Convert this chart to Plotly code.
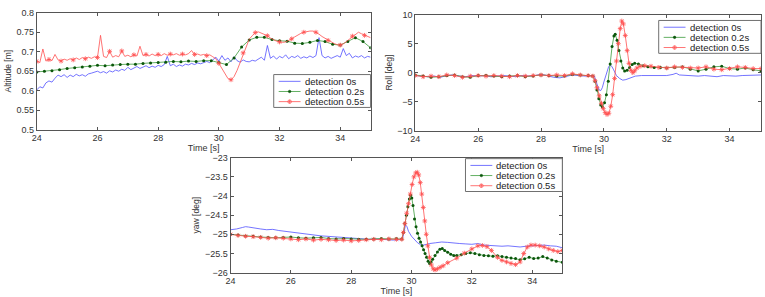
import plotly.graph_objects as go

# ---------------- data ----------------
# Altitude [m]
alt_t_blue = [round(24 + 0.1 * i, 1) for i in range(111)]
alt_blue = [0.602, 0.610, 0.607, 0.620, 0.625, 0.622, 0.632, 0.640, 0.636, 0.641,
            0.634, 0.640, 0.636, 0.642, 0.638, 0.641, 0.637, 0.643, 0.645, 0.648,
            0.650, 0.646, 0.649, 0.645, 0.651, 0.648, 0.653, 0.650, 0.655, 0.652,
            0.660, 0.654, 0.658, 0.662, 0.657, 0.660, 0.664, 0.659, 0.663, 0.660,
            0.665, 0.662, 0.667, 0.688, 0.664, 0.668, 0.662, 0.666, 0.663, 0.668,
            0.666, 0.670, 0.667, 0.671, 0.669, 0.672, 0.675, 0.672, 0.678, 0.686,
            0.676, 0.690, 0.678, 0.684, 0.674, 0.687, 0.677, 0.673, 0.679, 0.675,
            0.674, 0.678, 0.676, 0.680, 0.686, 0.678, 0.716, 0.683, 0.689, 0.681,
            0.688, 0.684, 0.692, 0.682, 0.688, 0.685, 0.690, 0.683, 0.687, 0.684,
            0.689, 0.685, 0.690, 0.736, 0.690, 0.684, 0.688, 0.683, 0.687, 0.690,
            0.686, 0.708, 0.690, 0.696, 0.684, 0.689, 0.686, 0.690, 0.684, 0.688,
            0.686]
alt_t_green = [24 + 0.25 * i for i in range(45)]
alt_green = [0.648, 0.650, 0.651, 0.654, 0.657, 0.659, 0.661, 0.663, 0.665, 0.664,
             0.666, 0.667, 0.668, 0.668, 0.670, 0.671, 0.672, 0.673, 0.675, 0.674,
             0.676, 0.675, 0.677, 0.677, 0.672, 0.667, 0.684, 0.712, 0.730, 0.737,
             0.737, 0.731, 0.728, 0.727, 0.722, 0.721, 0.724, 0.729, 0.726, 0.719,
             0.717, 0.726, 0.736, 0.726, 0.710]
alt_t_red = [round(24 + 0.1 * i, 1) for i in range(111)]
alt_red = [0.675, 0.672, 0.707, 0.676, 0.680, 0.677, 0.693, 0.679, 0.676, 0.681,
           0.678, 0.682, 0.679, 0.684, 0.680, 0.685, 0.682, 0.686, 0.683, 0.687,
           0.685, 0.742, 0.688, 0.685, 0.701, 0.686, 0.690, 0.687, 0.702, 0.688,
           0.691, 0.687, 0.692, 0.689, 0.714, 0.690, 0.693, 0.689, 0.694, 0.690,
           0.693, 0.690, 0.695, 0.691, 0.694, 0.692, 0.695, 0.691, 0.694, 0.692,
           0.695, 0.703, 0.693, 0.694, 0.691, 0.693, 0.690, 0.692, 0.687, 0.682,
           0.670, 0.657, 0.642, 0.631, 0.628, 0.636, 0.652, 0.672, 0.697, 0.717,
           0.732, 0.741, 0.749, 0.751, 0.748, 0.746, 0.741, 0.735, 0.730, 0.727,
           0.725, 0.724, 0.725, 0.728, 0.733, 0.738, 0.743, 0.747, 0.750, 0.752,
           0.753, 0.753, 0.750, 0.745, 0.739, 0.734, 0.729, 0.725, 0.721, 0.718,
           0.717, 0.720, 0.726, 0.733, 0.740, 0.746, 0.750, 0.746, 0.742, 0.738,
           0.736]

# Roll [deg]
roll_t_blue = [24.0, 24.2, 24.4, 24.6, 24.8, 25.0, 25.2, 25.4, 25.6, 25.8, 26.0, 26.2, 26.4, 26.6,
               26.8, 27.0, 27.2, 27.4, 27.6, 27.8, 28.0, 28.2, 28.4, 28.6, 28.8, 29.0, 29.2, 29.4,
               29.6, 29.7, 29.75, 29.8, 29.85, 29.9, 29.95, 30.0, 30.05, 30.1, 30.15, 30.2, 30.25,
               30.3, 30.35, 30.4, 30.5, 30.6, 30.7, 30.8, 30.9, 31.0, 31.2, 31.4, 31.6, 31.8, 32.0,
               32.2, 32.3, 32.4, 32.6, 32.8, 33.0, 33.2, 33.4, 33.6, 33.8, 34.0, 34.2, 34.4, 34.6,
               34.8, 35.0]
roll_blue = [-0.5, -0.6, -0.7, -0.6, -0.8, -0.5, -0.4, -0.6, -0.7, -0.5, -0.6, -0.5, -0.7, -0.6,
             -0.5, -0.6, -0.7, -0.5, -0.6, -0.5, -0.3, -0.5, -0.8, -0.9, -0.6, -0.4, -0.5, -0.6,
             -0.5, -0.6, -1.5, -2.4, -3.0, -3.1, -2.6, -1.6, -0.6, 0.3, 1.0, 1.3, 1.1,
             0.6, 0.0, -0.5, -1.0, -1.3, -1.2, -1.0, -0.8, -0.6, -0.5, -0.5, -0.6, -0.5, -0.5,
             -0.3, -0.1, -0.4, -0.5, -0.6, -0.6, -0.5, -0.6, -0.7, -0.5, -0.6, -0.6, -0.5, -0.5,
             -0.4, -0.4]
roll_t_green = [24.0, 24.25, 24.5, 24.75, 25.0, 25.25, 25.5, 25.75, 26.0, 26.25, 26.5, 26.75,
                27.0, 27.25, 27.5, 27.75, 28.0, 28.25, 28.5, 28.75, 29.0, 29.25, 29.5, 29.65,
                29.72, 29.78, 29.84, 29.9, 29.95, 30.02, 30.08, 30.14, 30.2, 30.26, 30.32, 30.36,
                30.42, 30.48, 30.54, 30.6, 30.66, 30.74, 30.82, 30.9, 30.98, 31.1, 31.25, 31.4,
                31.6, 31.8, 32.0, 32.25, 32.5, 32.75, 33.0, 33.25, 33.5, 33.75, 34.0, 34.25,
                34.5, 34.75, 35.0]
roll_green = [-0.4, -0.6, -0.8, -0.7, -0.5, -0.4, -0.7, -0.8, -0.5, -0.5, -0.6, -0.7,
              -0.6, -0.5, -0.7, -0.6, -0.4, -0.5, -0.6, -0.6, -0.3, -0.4, -0.5, -0.6,
              -1.5, -3.0, -4.5, -5.6, -5.9, -5.2, -3.8, -1.5, 1.5, 4.5, 6.3, 6.6,
              5.6, 3.8, 2.0, 0.8, 0.3, 0.4, 0.9, 1.4, 1.6, 1.5, 1.2, 1.0,
              0.9, 0.9, 0.8, 0.9, 1.0, 0.6, 0.3, 0.6, 1.0, 1.1, 0.7, 0.6,
              0.8, 0.5, 0.3]
roll_t_red = [24.0, 24.25, 24.5, 24.75, 25.0, 25.25, 25.5, 25.75, 26.0, 26.25, 26.5, 26.75,
              27.0, 27.25, 27.5, 27.75, 28.0, 28.25, 28.5, 28.75, 29.0, 29.25, 29.5, 29.65,
              29.72, 29.78, 29.85, 29.92, 29.98, 30.04, 30.1, 30.16, 30.22, 30.28, 30.34, 30.4,
              30.46, 30.52, 30.57, 30.62, 30.68, 30.74, 30.8, 30.86, 30.92, 30.98, 31.05, 31.15,
              31.3, 31.5, 31.75, 32.0, 32.25, 32.5, 32.75, 33.0, 33.25, 33.5, 33.75, 34.0,
              34.25, 34.5, 34.75, 35.0]
roll_red = [-0.5, -0.7, -0.6, -0.7, -0.4, -0.5, -0.8, -0.6, -0.5, -0.6, -0.5, -0.6,
            -0.7, -0.5, -0.6, -0.5, -0.4, -0.5, -0.4, -0.5, -0.2, -0.4, -0.5, -0.6,
            -1.4, -2.6, -4.0, -5.3, -6.2, -6.9, -7.2, -7.0, -5.8, -3.8, -1.0, 2.0,
            5.0, 7.6, 8.9, 8.4, 6.4, 3.8, 1.6, 0.4, 0.0, 0.3, 0.8, 1.1,
            1.2, 1.1, 0.9, 0.8, 1.0, 0.9, 0.8, 0.8, 1.0, 0.6, 0.5, 0.7,
            1.0, 0.9, 0.7, 0.7]

# Yaw [deg]
yaw_t_blue = [24.0, 24.2, 24.4, 24.5, 24.6, 24.8, 25.0, 25.2, 25.4, 25.6, 25.8, 26.0, 26.2, 26.4,
              26.6, 26.8, 27.0, 27.2, 27.4, 27.6, 27.8, 28.0, 28.2, 28.4, 28.6, 28.8, 29.0, 29.2,
              29.4, 29.6, 29.7, 29.75, 29.8, 29.85, 29.9, 30.0, 30.1, 30.2, 30.3, 30.4, 30.5,
              30.6, 30.8, 31.0, 31.2, 31.4, 31.6, 31.8, 32.0, 32.2, 32.4, 32.6, 32.8, 33.0,
              33.2, 33.4, 33.6, 33.8, 34.0, 34.2, 34.4, 34.6, 34.8, 35.0]
yaw_blue = [-24.88, -24.86, -24.82, -24.80, -24.81, -24.84, -24.86, -24.88, -24.87, -24.90,
            -24.92, -24.94, -24.96, -24.99, -25.01, -25.03, -25.04, -25.05, -25.06, -25.08,
            -25.09, -25.10, -25.11, -25.12, -25.13, -25.12, -25.13, -25.14, -25.15, -25.14,
            -25.12, -24.95, -24.76, -24.80, -24.92, -25.05, -25.15, -25.22, -25.27, -25.28,
            -25.26, -25.24, -25.22, -25.20, -25.21, -25.23, -25.24, -25.25, -25.26, -25.24,
            -25.28, -25.29, -25.30, -25.31, -25.30, -25.32, -25.33, -25.31, -25.30, -25.29,
            -25.28, -25.30, -25.31, -25.35]
yaw_t_green = [24.0, 24.25, 24.5, 24.75, 25.0, 25.25, 25.5, 25.75, 26.0, 26.25, 26.5, 26.75,
               27.0, 27.25, 27.5, 27.75, 28.0, 28.25, 28.5, 28.75, 29.0, 29.25, 29.5, 29.68,
               29.73, 29.78, 29.83, 29.88, 29.93, 29.97, 30.01, 30.05, 30.1, 30.15, 30.2, 30.25,
               30.3, 30.35, 30.4, 30.45, 30.5, 30.55, 30.6, 30.65, 30.7, 30.78, 30.86, 30.94,
               31.02, 31.1, 31.2, 31.3, 31.4, 31.5, 31.65, 31.8, 31.95, 32.1, 32.25, 32.4,
               32.55, 32.7, 32.85, 33.0, 33.15, 33.3, 33.45, 33.6, 33.75, 33.9, 34.05, 34.2,
               34.35, 34.5, 34.65, 34.8, 35.0]
yaw_green = [-25.00, -25.02, -25.04, -25.05, -25.07, -25.08, -25.09, -25.08, -25.07, -25.09,
             -25.10, -25.09, -25.08, -25.11, -25.12, -25.11, -25.12, -25.13, -25.13, -25.12,
             -25.11, -25.12, -25.11, -25.12, -24.95, -24.72, -24.50, -24.28, -24.08, -23.98,
             -24.05, -24.25, -24.60, -24.80, -24.97, -25.10, -25.20, -25.30, -25.40, -25.50,
             -25.60, -25.70, -25.76, -25.72, -25.65, -25.55, -25.46, -25.39, -25.37, -25.42,
             -25.47, -25.52, -25.55, -25.55, -25.53, -25.50, -25.48, -25.50, -25.53, -25.55,
             -25.56, -25.57, -25.56, -25.58, -25.60, -25.62, -25.63, -25.66, -25.64, -25.60,
             -25.63, -25.62, -25.58, -25.62, -25.67, -25.70, -25.73]
yaw_t_red = [24.0, 24.25, 24.5, 24.75, 25.0, 25.25, 25.5, 25.75, 26.0, 26.25, 26.5, 26.75,
             27.0, 27.25, 27.5, 27.75, 28.0, 28.25, 28.5, 28.75, 29.0, 29.25, 29.5, 29.68,
             29.73, 29.78, 29.84, 29.9, 29.96, 30.02, 30.08, 30.14, 30.19, 30.24, 30.29, 30.34,
             30.39, 30.44, 30.49, 30.54, 30.6, 30.66, 30.72, 30.78, 30.86, 30.95, 31.05, 31.2,
             31.5, 31.75, 32.0, 32.2, 32.35, 32.5, 32.65, 32.85, 33.0, 33.15, 33.3, 33.45,
             33.6, 33.72, 33.84, 33.96, 34.1, 34.25, 34.4, 34.55, 34.7, 34.85, 35.0]
yaw_red = [-25.00, -25.03, -25.05, -25.06, -25.08, -25.10, -25.09, -25.10, -25.12, -25.14,
           -25.12, -25.15, -25.13, -25.14, -25.16, -25.15, -25.17, -25.16, -25.14, -25.13,
           -25.14, -25.12, -25.13, -25.13, -24.95, -24.72, -24.45, -24.20, -23.95, -23.70,
           -23.50, -23.40, -23.38, -23.45, -23.65, -23.95, -24.30, -24.65, -25.00, -25.30,
           -25.60, -25.80, -25.90, -25.93, -25.90, -25.86, -25.82, -25.74, -25.62, -25.49,
           -25.38, -25.30, -25.29, -25.32, -25.42, -25.60, -25.68, -25.72, -25.76, -25.79,
           -25.72, -25.50, -25.33, -25.28, -25.28, -25.30, -25.33, -25.38, -25.42, -25.45,
           -25.42]

series_names = ["detection 0s", "detection 0.2s", "detection 0.5s"]
x_ticks = [24, 26, 28, 30, 32, 34]
alt_ticks = [0.5, 0.55, 0.6, 0.65, 0.7, 0.75, 0.8]
roll_ticks = [-10, -5, 0, 5, 10]
yaw_ticks = [-26, -25.5, -25, -24.5, -24, -23.5, -23]

# ---------------- style ----------------
W, H = 765, 297
FONT = "Liberation Sans, Arial, sans-serif"
TXT = "#333333"
BLUE = "#5050ff"
GREEN = "#3c9c3c"
GREEN_M = "#0b560b"
RED = "#ff5050"


def px_x(x):
    return x / W


def px_y(y):
    return 1 - y / H


def dom_x(a, b):
    return [a / W, b / W]


def dom_y(top, bottom):
    return [1 - bottom / H, 1 - top / H]


fig = go.Figure()


def add_series(xs, ys, idx, xa, ya, maxmk=None):
    if idx == 0:
        fig.add_trace(go.Scatter(x=xs, y=ys, mode="lines", name=series_names[0],
                                 line=dict(color=BLUE, width=0.8), xaxis=xa, yaxis=ya))
    elif idx == 1:
        mk = dict(symbol="circle", size=3, color=GREEN_M)
        if maxmk:
            mk["maxdisplayed"] = maxmk
        fig.add_trace(go.Scatter(x=xs, y=ys, mode="lines+markers", name=series_names[1],
                                 line=dict(color=GREEN, width=0.8), marker=mk,
                                 xaxis=xa, yaxis=ya))
    else:
        mk = dict(symbol="asterisk-open", size=4, color=RED, line=dict(width=0.8, color=RED))
        if maxmk:
            mk["maxdisplayed"] = maxmk
        fig.add_trace(go.Scatter(x=xs, y=ys, mode="lines+markers", name=series_names[2],
                                 line=dict(color=RED, width=0.8), marker=mk,
                                 xaxis=xa, yaxis=ya))


add_series(alt_t_blue, alt_blue, 0, "x", "y")
add_series(alt_t_green, alt_green, 1, "x", "y")
add_series(alt_t_red, alt_red, 2, "x", "y", maxmk=30)

add_series(roll_t_blue, roll_blue, 0, "x2", "y2")
add_series(roll_t_green, roll_green, 1, "x2", "y2")
add_series(roll_t_red, roll_red, 2, "x2", "y2")

add_series(yaw_t_blue, yaw_blue, 0, "x3", "y3")
add_series(yaw_t_green, yaw_green, 1, "x3", "y3")
add_series(yaw_t_red, yaw_red, 2, "x3", "y3")

axis_common = dict(showline=True, linecolor="#555555", linewidth=1, mirror="allticks",
                   ticks="inside", ticklen=3, tickcolor="#555555", showgrid=False,
                   zeroline=False, tickfont=dict(family=FONT, size=9, color=TXT))

xt = dict(text="Time [s]", font=dict(family=FONT, size=9, color=TXT), standoff=0)


def yt(text):
    return dict(text=text, font=dict(family=FONT, size=8.5, color=TXT), standoff=3)


shapes = []
annotations = []


def build_legend(left, top, right):
    """Box legend like MATLAB's: box, three short lines with markers, labels."""
    bottom = top + 34
    shapes.append(dict(type="rect", xref="paper", yref="paper",
                       x0=px_x(left), x1=px_x(right), y0=px_y(bottom), y1=px_y(top),
                       line=dict(color="#707070", width=1), fillcolor="white", layer="above"))
    colors = [BLUE, GREEN, RED]
    for i, name in enumerate(series_names):
        yy = top + 7 + 10.5 * i
        x0, x1 = left + 5, left + 27
        shapes.append(dict(type="line", xref="paper", yref="paper",
                           x0=px_x(x0), x1=px_x(x1), y0=px_y(yy), y1=px_y(yy),
                           line=dict(color=colors[i], width=0.8), layer="above"))
        xc = (x0 + x1) / 2
        if i == 1:
            r = 1.3
            shapes.append(dict(type="circle", xref="paper", yref="paper",
                               x0=px_x(xc - r), x1=px_x(xc + r), y0=px_y(yy + r), y1=px_y(yy - r),
                               line=dict(color=GREEN_M, width=0.5), fillcolor=GREEN_M, layer="above"))
        elif i == 2:
            r = 1.8
            shapes.append(dict(type="circle", xref="paper", yref="paper",
                               x0=px_x(xc - r), x1=px_x(xc + r), y0=px_y(yy + r), y1=px_y(yy - r),
                               line=dict(color=RED, width=0.8), layer="above"))
            shapes.append(dict(type="line", xref="paper", yref="paper",
                               x0=px_x(xc), x1=px_x(xc), y0=px_y(yy + r), y1=px_y(yy - r),
                               line=dict(color=RED, width=0.8), layer="above"))
        annotations.append(dict(xref="paper", yref="paper", x=px_x(left + 29), y=px_y(yy),
                                xanchor="left", yanchor="middle", showarrow=False,
                                text=name, font=dict(family=FONT, size=9.5, color="#222222")))


build_legend(270.5, 72, 368)
build_legend(658, 16, 761)
build_legend(463.5, 159, 561)

fig.update_layout(
    width=W, height=H, autosize=False,
    margin=dict(l=0, r=0, t=0, b=0),
    paper_bgcolor="white", plot_bgcolor="white",
    showlegend=False,
    xaxis=dict(domain=dom_x(32, 368), range=[24, 35], tickvals=x_ticks, anchor="y",
               title=xt, **axis_common),
    yaxis=dict(domain=dom_y(8, 129), range=[0.5, 0.8], tickvals=alt_ticks, anchor="x",
               title=yt("Altitude [m]"), **axis_common),
    xaxis2=dict(domain=dom_x(413, 761), range=[24, 35], tickvals=x_ticks, anchor="y2",
                title=xt, **axis_common),
    yaxis2=dict(domain=dom_y(10, 130), range=[-10, 10], tickvals=roll_ticks, anchor="x2",
                title=yt("Roll [deg]"), **axis_common),
    xaxis3=dict(domain=dom_x(227, 561), range=[24, 35], tickvals=x_ticks, anchor="y3",
                title=xt, **axis_common),
    yaxis3=dict(domain=dom_y(158, 277), range=[-26, -23], tickvals=yaw_ticks, anchor="x3",
                title=yt("yaw [deg]"), **axis_common),
    shapes=shapes,
    annotations=annotations,
)

fig.write_html("out.html")
